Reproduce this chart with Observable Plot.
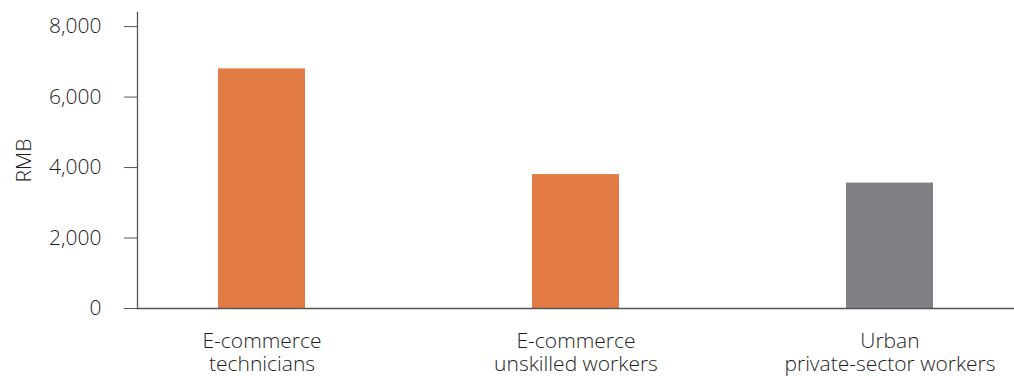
<!DOCTYPE html>
<html>
<head>
<meta charset="utf-8">
<script src="https://cdn.jsdelivr.net/npm/d3@7"></script>
<script src="https://cdn.jsdelivr.net/npm/@observablehq/plot@0.6"></script>
<style>
  html, body { margin: 0; padding: 0; background: #fff; }
  #chart svg { display: block; }
</style>
</head>
<body>
<div id="chart"></div>
<script>
const categories = ["E-commerce\ntechnicians", "E-commerce\nunskilled workers", "Urban\nprivate-sector workers"];
const values = [6800, 3800, 3560];
const groups = ["e-commerce", "e-commerce", "urban"];
const yTicks = [0, 2000, 4000, 6000, 8000];
const yLabel = "RMB";

const data = categories.map((c, i) => ({category: c, value: values[i], group: groups[i]}));

const chart = Plot.plot({
  width: 1014,
  height: 376,
  marginLeft: 137,
  marginRight: 0,
  marginTop: 12,
  marginBottom: 68,
  style: {fontFamily: "'Open Sans', sans-serif", fontSize: "21px", color: "#1e1e1e", background: "#fff"},
  x: {domain: categories, paddingInner: 0.724, paddingOuter: 0.257},
  y: {domain: [0, 8400]},
  color: {domain: ["e-commerce", "urban"], range: ["#E27C44", "#808184"]},
  marks: [
    Plot.barY(data, {x: "category", y: "value", fill: "group"}),
    Plot.axisY({ticks: yTicks, tickFormat: d3.format(","), tickSize: 13, tickPadding: 23, stroke: "#555",
      label: yLabel, labelAnchor: "center", labelArrow: false, labelOffset: 121, fontSize: 21, fontWeight: 300}),
    Plot.axisX({tickSize: 0, tickPadding: 23, lineHeight: 1.1, fontSize: 21, fontWeight: 300, label: null}),
    Plot.ruleY([0], {stroke: "#555", strokeWidth: 1.3}),
    Plot.frame({anchor: "left", stroke: "#555", strokeWidth: 1.3})
  ]
});
document.getElementById("chart").appendChild(chart);
</script>
</body>
</html>
